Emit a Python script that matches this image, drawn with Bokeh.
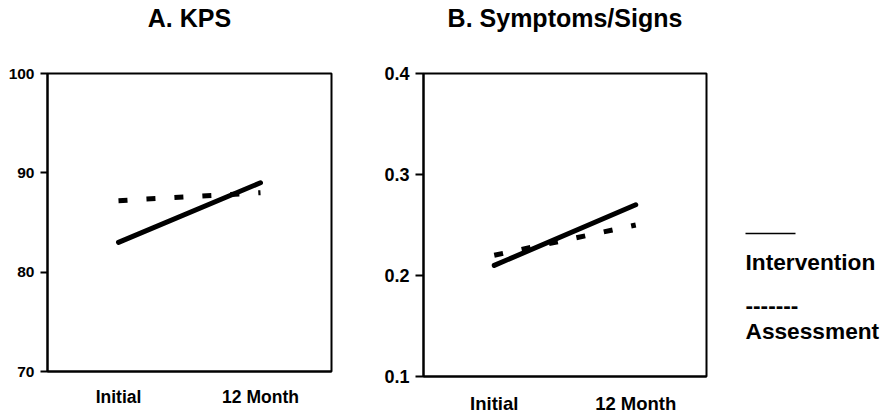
from bokeh.plotting import figure
from bokeh.models import FactorRange, Range1d, FixedTicker, CategoricalAxis
from bokeh.layouts import row
from bokeh.embed import file_html
from bokeh.resources import INLINE

categories = ["Initial", "12 Month"]
kps_intervention = [83.0, 89.0]
kps_assessment = [87.2, 88.0]
sym_intervention = [0.21, 0.27]
sym_assessment = [0.22, 0.25]
kps_ticks = [70, 80, 90, 100]
sym_ticks = [0.1, 0.2, 0.3, 0.4]
titles = ["A. KPS", "B. Symptoms/Signs"]
legend_labels = ["Intervention", "Assessment"]

FONT = "Liberation Sans"
H = 416


def panel(title, yr, ticks, interv, assess, width, mbl, mbr, mbt, mbb,
          ylab_size, ytick, ystandoff, xlab_size, xstandoff):
    p = figure(x_range=FactorRange(*categories), y_range=Range1d(*yr),
               width=width, height=H, output_backend="svg",
               toolbar_location=None, min_border_left=mbl,
               min_border_right=mbr, min_border_top=mbt,
               min_border_bottom=mbb, background_fill_color="white",
               border_fill_color="white")
    p.frame_align = False
    # panel title: label of a bare axis above the frame
    tax = CategoricalAxis(axis_label=title, axis_line_color=None,
                          major_tick_out=0, major_tick_in=0,
                          minor_tick_out=0, minor_tick_in=0,
                          major_label_standoff=0,
                          major_label_text_font_size="0px",
                          major_label_text_alpha=0,
                          axis_label_standoff=42,
                          axis_label_text_font=FONT,
                          axis_label_text_font_size="25px",
                          axis_label_text_font_style="bold",
                          axis_label_text_color="black")
    p.add_layout(tax, "above")
    p.xgrid.visible = False
    p.ygrid.visible = False
    p.outline_line_color = "black"
    p.outline_line_width = 2
    p.outline_line_alpha = 1

    p.yaxis.ticker = FixedTicker(ticks=ticks)
    p.yaxis.major_tick_out = ytick
    p.yaxis.major_tick_in = 0
    p.yaxis.minor_tick_out = 0
    p.yaxis.minor_tick_in = 0
    p.yaxis.major_tick_line_width = 2
    p.yaxis.major_label_standoff = ystandoff
    p.yaxis.major_label_text_font = FONT
    p.yaxis.major_label_text_font_size = ylab_size
    p.yaxis.major_label_text_font_style = "bold"
    p.yaxis.major_label_text_color = "black"
    p.yaxis.axis_line_width = 2

    xax = p.below[0]
    xax.major_tick_out = 0
    xax.major_tick_in = 0
    xax.minor_tick_out = 0
    xax.major_label_standoff = xstandoff
    xax.major_label_text_font = FONT
    xax.major_label_text_font_size = xlab_size
    xax.major_label_text_font_style = "bold"
    xax.major_label_text_color = "black"
    xax.axis_line_width = 2

    p.line(categories, assess, line_color="black", line_width=5,
           line_dash="9 19")
    p.line(categories, interv, line_color="black", line_width=5,
           line_cap="round")
    return p


pA = panel(titles[0], (70, 100), kps_ticks, kps_intervention, kps_assessment,
           380, 47, 49, 72, 45, "15.5px", 7, 6, "17.5px", 15)
pB = panel(titles[1], (0.1, 0.4), sym_ticks, sym_intervention, sym_assessment,
           350, 43, 24, 72, 38, "18px", 8, 6, "18.5px", 16)

# legend panel (pixel coordinates, y downwards)
WC = 156
pC = figure(width=WC, height=H, x_range=Range1d(0, WC), y_range=Range1d(H, 0),
            output_backend="svg", toolbar_location=None, min_border=0)
pC.frame_align = False
pC.axis.visible = False
pC.grid.visible = False
pC.outline_line_color = None
pC.line([15, 65], [233, 233], line_color="black", line_width=1.5)
pC.text(x=[15, 15, 15], y=[261.5, 304.5, 330.5],
        text=[legend_labels[0], "-------", legend_labels[1]],
        text_font_size="22.7px", text_font_style="bold", text_color="black",
        text_baseline="middle", text_align="left",
        text_font={"value": FONT})

layout = row(pA, pB, pC)
open("out.html", "w").write(file_html(layout, INLINE))
